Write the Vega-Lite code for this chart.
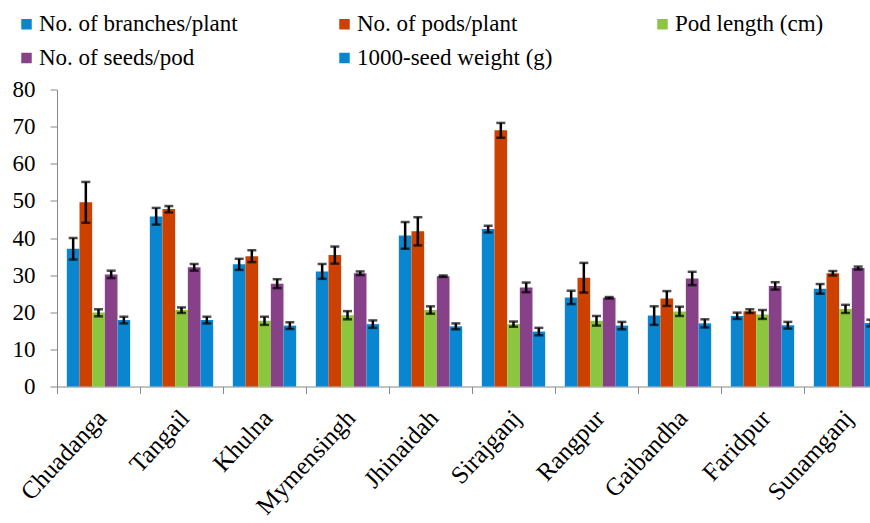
{
  "$schema": "https://vega.github.io/schema/vega-lite/v6.json",
  "autosize": {"type": "none"},
  "width": 813,
  "height": 297,
  "padding": {"left": 57, "top": 89.5, "right": 0, "bottom": 136.5},
  "background": "white",
  "config": {
    "view": {"stroke": null},
    "font": "'Liberation Serif', 'Times New Roman', Times, serif"
  },
  "data": {
    "values": [
      {"district": "Chuadanga", "trait": "No. of branches/plant", "value": 37.1, "lo": 34.2, "hi": 40.0},
      {"district": "Chuadanga", "trait": "No. of pods/plant", "value": 49.6, "lo": 44.1, "hi": 55.1},
      {"district": "Chuadanga", "trait": "Pod length (cm)", "value": 19.9, "lo": 18.9, "hi": 20.8},
      {"district": "Chuadanga", "trait": "No. of seeds/pod", "value": 30.2, "lo": 29.2, "hi": 31.2},
      {"district": "Chuadanga", "trait": "1000-seed weight (g)", "value": 17.9, "lo": 17.0, "hi": 18.8},
      {"district": "Tangail", "trait": "No. of branches/plant", "value": 45.8, "lo": 43.6, "hi": 48.1},
      {"district": "Tangail", "trait": "No. of pods/plant", "value": 47.8, "lo": 46.9, "hi": 48.6},
      {"district": "Tangail", "trait": "Pod length (cm)", "value": 20.6, "lo": 19.8, "hi": 21.3},
      {"district": "Tangail", "trait": "No. of seeds/pod", "value": 32.1, "lo": 31.2, "hi": 33.0},
      {"district": "Tangail", "trait": "1000-seed weight (g)", "value": 17.9, "lo": 17.0, "hi": 18.8},
      {"district": "Khulna", "trait": "No. of branches/plant", "value": 32.9, "lo": 31.4, "hi": 34.4},
      {"district": "Khulna", "trait": "No. of pods/plant", "value": 35.1, "lo": 33.5, "hi": 36.7},
      {"district": "Khulna", "trait": "Pod length (cm)", "value": 17.7, "lo": 16.6, "hi": 18.8},
      {"district": "Khulna", "trait": "No. of seeds/pod", "value": 27.7, "lo": 26.5, "hi": 28.9},
      {"district": "Khulna", "trait": "1000-seed weight (g)", "value": 16.4, "lo": 15.5, "hi": 17.3},
      {"district": "Mymensingh", "trait": "No. of branches/plant", "value": 31.0, "lo": 29.0, "hi": 33.0},
      {"district": "Mymensingh", "trait": "No. of pods/plant", "value": 35.4, "lo": 33.1, "hi": 37.7},
      {"district": "Mymensingh", "trait": "Pod length (cm)", "value": 19.2, "lo": 18.1, "hi": 20.3},
      {"district": "Mymensingh", "trait": "No. of seeds/pod", "value": 30.5, "lo": 30.0, "hi": 31.0},
      {"district": "Mymensingh", "trait": "1000-seed weight (g)", "value": 16.8, "lo": 15.8, "hi": 17.8},
      {"district": "Jhinaidah", "trait": "No. of branches/plant", "value": 40.7, "lo": 37.1, "hi": 44.3},
      {"district": "Jhinaidah", "trait": "No. of pods/plant", "value": 41.8, "lo": 38.0, "hi": 45.6},
      {"district": "Jhinaidah", "trait": "Pod length (cm)", "value": 20.6, "lo": 19.6, "hi": 21.6},
      {"district": "Jhinaidah", "trait": "No. of seeds/pod", "value": 29.7, "lo": 29.5, "hi": 29.9},
      {"district": "Jhinaidah", "trait": "1000-seed weight (g)", "value": 16.2, "lo": 15.4, "hi": 17.0},
      {"district": "Sirajganj", "trait": "No. of branches/plant", "value": 42.4, "lo": 41.5, "hi": 43.3},
      {"district": "Sirajganj", "trait": "No. of pods/plant", "value": 69.0, "lo": 67.0, "hi": 71.0},
      {"district": "Sirajganj", "trait": "Pod length (cm)", "value": 16.8, "lo": 16.1, "hi": 17.5},
      {"district": "Sirajganj", "trait": "No. of seeds/pod", "value": 26.7, "lo": 25.4, "hi": 28.0},
      {"district": "Sirajganj", "trait": "1000-seed weight (g)", "value": 14.8, "lo": 13.8, "hi": 15.8},
      {"district": "Rangpur", "trait": "No. of branches/plant", "value": 24.0, "lo": 22.2, "hi": 25.8},
      {"district": "Rangpur", "trait": "No. of pods/plant", "value": 29.3, "lo": 25.3, "hi": 33.3},
      {"district": "Rangpur", "trait": "Pod length (cm)", "value": 17.7, "lo": 16.4, "hi": 19.0},
      {"district": "Rangpur", "trait": "No. of seeds/pod", "value": 23.9, "lo": 23.7, "hi": 24.1},
      {"district": "Rangpur", "trait": "1000-seed weight (g)", "value": 16.4, "lo": 15.4, "hi": 17.4},
      {"district": "Gaibandha", "trait": "No. of branches/plant", "value": 19.1, "lo": 16.6, "hi": 21.6},
      {"district": "Gaibandha", "trait": "No. of pods/plant", "value": 23.7, "lo": 21.7, "hi": 25.7},
      {"district": "Gaibandha", "trait": "Pod length (cm)", "value": 20.2, "lo": 19.0, "hi": 21.5},
      {"district": "Gaibandha", "trait": "No. of seeds/pod", "value": 29.1, "lo": 27.3, "hi": 30.9},
      {"district": "Gaibandha", "trait": "1000-seed weight (g)", "value": 17.0, "lo": 15.9, "hi": 18.1},
      {"district": "Faridpur", "trait": "No. of branches/plant", "value": 19.0, "lo": 18.2, "hi": 19.9},
      {"district": "Faridpur", "trait": "No. of pods/plant", "value": 20.3, "lo": 19.8, "hi": 20.8},
      {"district": "Faridpur", "trait": "Pod length (cm)", "value": 19.4, "lo": 18.2, "hi": 20.6},
      {"district": "Faridpur", "trait": "No. of seeds/pod", "value": 27.1, "lo": 26.1, "hi": 28.1},
      {"district": "Faridpur", "trait": "1000-seed weight (g)", "value": 16.5, "lo": 15.6, "hi": 17.4},
      {"district": "Sunamganj", "trait": "No. of branches/plant", "value": 26.3, "lo": 25.0, "hi": 27.6},
      {"district": "Sunamganj", "trait": "No. of pods/plant", "value": 30.5, "lo": 29.9, "hi": 31.1},
      {"district": "Sunamganj", "trait": "Pod length (cm)", "value": 20.9, "lo": 19.8, "hi": 22.0},
      {"district": "Sunamganj", "trait": "No. of seeds/pod", "value": 31.9, "lo": 31.5, "hi": 32.3},
      {"district": "Sunamganj", "trait": "1000-seed weight (g)", "value": 17.1, "lo": 16.2, "hi": 18.0}
    ]
  },
  "encoding": {
    "x": {
      "field": "district",
      "type": "nominal",
      "sort": null,
      "title": null,
      "scale": {"range": [0, 830], "paddingInner": 0, "paddingOuter": 0},
      "axis": {
        "tickBand": "extent",
        "labelAngle": -47,
        "labelAlign": "right",
        "labelBaseline": "middle",
        "labelFont": "'Liberation Serif', 'Times New Roman', Times, serif",
        "labelFontSize": 25,
        "labelColor": "#000000",
        "labelPadding": 20,
        "labelOffset": 3,
        "tickSize": 7,
        "tickColor": "#888888",
        "domainColor": "#888888",
        "labelLimit": 300
      }
    },
    "xOffset": {
      "field": "trait",
      "type": "nominal",
      "scale": {
        "domain": ["No. of branches/plant", "No. of pods/plant", "Pod length (cm)", "No. of seeds/pod", "1000-seed weight (g)"],
        "paddingInner": 0,
        "paddingOuter": 0.775
      }
    },
    "y": {
      "field": "value",
      "type": "quantitative",
      "title": null,
      "scale": {"domain": [0, 80], "nice": false},
      "axis": {
        "values": [0, 10, 20, 30, 40, 50, 60, 70, 80],
        "grid": false,
        "labelFont": "'Liberation Serif', 'Times New Roman', Times, serif",
        "labelFontSize": 23,
        "labelColor": "#000000",
        "labelPadding": 15,
        "tickSize": 7,
        "tickColor": "#888888",
        "domainColor": "#888888"
      }
    }
  },
  "layer": [
    {
      "mark": {"type": "bar", "stroke": null},
      "encoding": {
        "color": {
          "field": "trait",
          "type": "nominal",
          "scale": {
            "domain": ["No. of branches/plant", "No. of pods/plant", "Pod length (cm)", "No. of seeds/pod", "1000-seed weight (g)"],
            "range": ["#0a86d0", "#cc4100", "#8cc63e", "#874189", "#0a86d0"]
          },
          "legend": {
            "title": null,
            "orient": "none",
            "legendX": -42,
            "legendY": -77,
            "direction": "horizontal",
            "columns": 3,
            "gridAlign": "all",
            "columnPadding": 95,
            "rowPadding": 10,
            "symbolType": "square",
            "symbolSize": 110,
            "symbolStrokeWidth": 0,
            "labelOffset": 1,
            "labelFont": "'Liberation Serif', 'Times New Roman', Times, serif",
            "labelFontSize": 23,
            "labelColor": "#000000",
            "labelLimit": 400
          }
        }
      }
    },
    {
      "mark": {"type": "rule", "color": "#000000", "strokeWidth": 2.5},
      "encoding": {
        "y": {"field": "lo", "type": "quantitative"},
        "y2": {"field": "hi"}
      }
    },
    {
      "mark": {"type": "tick", "color": "#000000", "thickness": 2.5, "size": 9},
      "encoding": {
        "y": {"field": "lo", "type": "quantitative"}
      }
    },
    {
      "mark": {"type": "tick", "color": "#000000", "thickness": 2.5, "size": 9},
      "encoding": {
        "y": {"field": "hi", "type": "quantitative"}
      }
    }
  ]
}
